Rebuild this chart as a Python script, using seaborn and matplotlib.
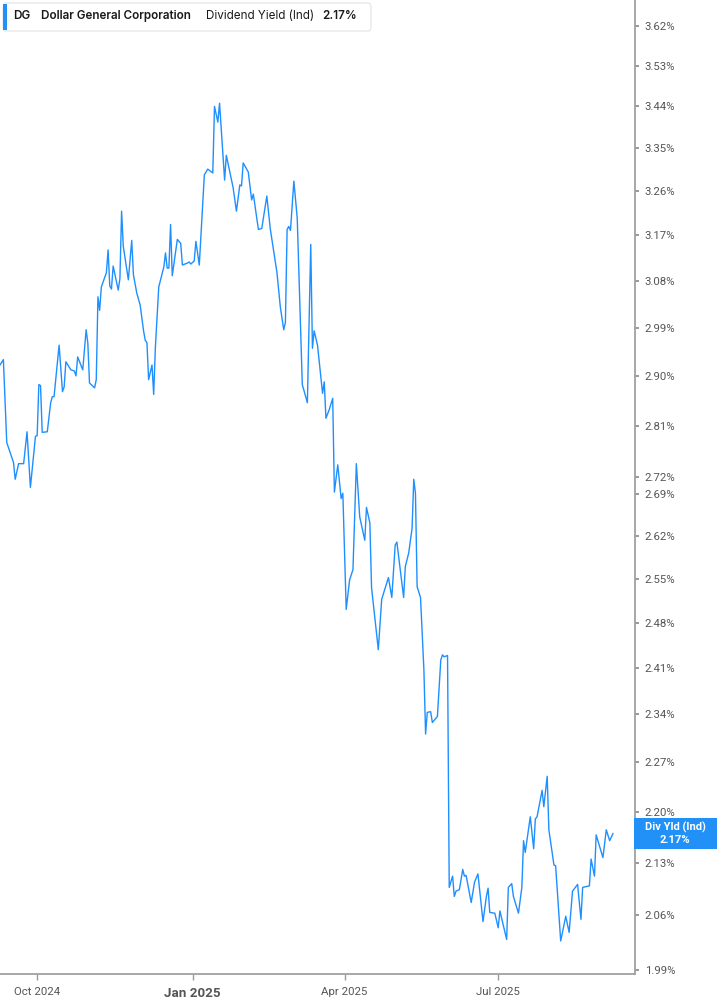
import pandas as pd
import matplotlib
matplotlib.use("Agg")
import matplotlib.pyplot as plt
import matplotlib.dates as mdates
from matplotlib.patches import FancyBboxPatch, Rectangle
from matplotlib.ticker import FixedLocator, FixedFormatter, NullLocator
import seaborn as sns

# DG dividend yield (indicated), percent
dates = [
    "2024-09-09", "2024-09-11", "2024-09-13", "2024-09-17", "2024-09-18", "2024-09-20", "2024-09-23", "2024-09-25", "2024-09-27", "2024-09-30",
    "2024-10-01", "2024-10-02", "2024-10-03", "2024-10-04", "2024-10-07", "2024-10-09", "2024-10-10", "2024-10-11", "2024-10-14", "2024-10-16",
    "2024-10-17", "2024-10-18", "2024-10-21", "2024-10-23", "2024-10-24", "2024-10-25", "2024-10-28", "2024-10-30", "2024-10-31", "2024-11-01",
    "2024-11-04", "2024-11-05", "2024-11-06", "2024-11-07", "2024-11-08", "2024-11-11", "2024-11-12", "2024-11-13", "2024-11-14", "2024-11-15",
    "2024-11-18", "2024-11-19", "2024-11-20", "2024-11-21", "2024-11-24", "2024-11-26", "2024-11-27", "2024-11-29", "2024-12-01", "2024-12-03",
    "2024-12-04", "2024-12-05", "2024-12-06", "2024-12-08", "2024-12-09", "2024-12-10", "2024-12-12", "2024-12-15", "2024-12-16", "2024-12-17",
    "2024-12-18", "2024-12-19", "2024-12-20", "2024-12-23", "2024-12-25", "2024-12-26", "2024-12-29", "2024-12-30", "2024-12-31", "2025-01-02",
    "2025-01-03", "2025-01-05", "2025-01-08", "2025-01-10", "2025-01-13", "2025-01-14", "2025-01-16", "2025-01-17", "2025-01-20", "2025-01-21",
    "2025-01-25", "2025-01-27", "2025-01-29", "2025-01-30", "2025-01-31", "2025-02-03", "2025-02-05", "2025-02-06", "2025-02-09", "2025-02-11",
    "2025-02-14", "2025-02-16", "2025-02-20", "2025-02-22", "2025-02-24", "2025-02-25", "2025-02-26", "2025-02-27", "2025-02-28", "2025-03-02",
    "2025-03-04", "2025-03-07", "2025-03-10", "2025-03-12", "2025-03-13", "2025-03-14", "2025-03-16", "2025-03-19", "2025-03-20", "2025-03-21",
    "2025-03-23", "2025-03-25", "2025-03-26", "2025-03-28", "2025-03-30", "2025-03-31", "2025-04-02", "2025-04-04", "2025-04-06", "2025-04-08",
    "2025-04-10", "2025-04-13", "2025-04-14", "2025-04-16", "2025-04-17", "2025-04-21", "2025-04-23", "2025-04-27", "2025-04-29", "2025-05-01",
    "2025-05-02", "2025-05-06", "2025-05-07", "2025-05-09", "2025-05-11", "2025-05-12", "2025-05-13", "2025-05-14", "2025-05-16", "2025-05-18",
    "2025-05-19", "2025-05-20", "2025-05-22", "2025-05-23", "2025-05-26", "2025-05-28", "2025-05-29", "2025-05-30", "2025-06-01", "2025-06-02",
    "2025-06-04", "2025-06-05", "2025-06-06", "2025-06-08", "2025-06-10", "2025-06-11", "2025-06-12", "2025-06-15", "2025-06-17", "2025-06-19",
    "2025-06-22", "2025-06-24", "2025-06-25", "2025-06-26", "2025-06-29", "2025-07-01", "2025-07-02", "2025-07-06", "2025-07-07", "2025-07-09",
    "2025-07-10", "2025-07-13", "2025-07-15", "2025-07-16", "2025-07-17", "2025-07-20", "2025-07-22", "2025-07-23", "2025-07-24", "2025-07-27",
    "2025-07-28", "2025-07-30", "2025-07-31", "2025-08-03", "2025-08-04", "2025-08-07", "2025-08-10", "2025-08-12", "2025-08-14", "2025-08-17",
    "2025-08-19", "2025-08-20", "2025-08-24", "2025-08-25", "2025-08-27", "2025-08-28", "2025-09-01", "2025-09-03", "2025-09-05", "2025-09-07",
]
yield_pct = [
    2.920, 2.930, 2.780, 2.745, 2.716, 2.743, 2.743, 2.799, 2.702, 2.791,
    2.792, 2.884, 2.882, 2.798, 2.799, 2.851, 2.862, 2.862, 2.957, 2.871,
    2.880, 2.926, 2.911, 2.909, 2.900, 2.935, 2.911, 2.986, 2.961, 2.887,
    2.878, 2.893, 3.049, 3.023, 3.068, 3.096, 3.141, 3.070, 3.064, 3.109,
    3.062, 3.084, 3.219, 3.148, 3.082, 3.160, 3.092, 3.056, 3.033, 2.984,
    2.966, 2.962, 2.893, 2.920, 2.866, 2.953, 3.068, 3.107, 3.135, 3.105,
    3.105, 3.192, 3.090, 3.162, 3.154, 3.111, 3.115, 3.117, 3.113, 3.119,
    3.158, 3.111, 3.294, 3.306, 3.298, 3.440, 3.406, 3.447, 3.283, 3.335,
    3.268, 3.219, 3.273, 3.271, 3.319, 3.300, 3.242, 3.254, 3.182, 3.184,
    3.250, 3.184, 3.096, 3.029, 2.986, 3.000, 3.182, 3.188, 3.180, 3.281,
    3.205, 2.884, 2.851, 3.152, 2.951, 2.984, 2.957, 2.868, 2.889, 2.823,
    2.839, 2.859, 2.694, 2.741, 2.683, 2.692, 2.501, 2.548, 2.565, 2.743,
    2.652, 2.613, 2.668, 2.642, 2.536, 2.438, 2.517, 2.552, 2.520, 2.605,
    2.610, 2.520, 2.570, 2.592, 2.633, 2.716, 2.692, 2.537, 2.520, 2.407,
    2.311, 2.343, 2.344, 2.328, 2.337, 2.422, 2.430, 2.427, 2.429, 2.097,
    2.112, 2.085, 2.092, 2.094, 2.121, 2.112, 2.113, 2.077, 2.104, 2.115,
    2.052, 2.085, 2.096, 2.064, 2.063, 2.044, 2.066, 2.029, 2.097, 2.102,
    2.085, 2.063, 2.097, 2.160, 2.144, 2.193, 2.149, 2.190, 2.193, 2.230,
    2.207, 2.250, 2.175, 2.127, 2.126, 2.027, 2.059, 2.038, 2.092, 2.101,
    2.055, 2.097, 2.099, 2.135, 2.112, 2.168, 2.137, 2.175, 2.160, 2.170,
]

ytick_vals = [1.99, 2.06, 2.13, 2.20, 2.27, 2.34, 2.41, 2.48, 2.55, 2.62, 2.69,
              2.72, 2.81, 2.90, 2.99, 3.08, 3.17, 3.26, 3.35, 3.44, 3.53, 3.62]
xtick_dates = ["2024-10-01", "2025-01-01", "2025-04-01", "2025-07-01"]
xtick_labels = ["Oct 2024", "Jan 2025", "Apr 2025", "Jul 2025"]

ticker = "DG"
company = "Dollar General Corporation"
metric = "Dividend Yield (Ind)"
last_value = "2.17%"

LINE_BLUE = "#1e8fff"
BOX_BLUE = "#2191f7"
TXT = "#555555"
W, H = 717, 1005

df = pd.DataFrame({"date": pd.to_datetime(dates), "yield": yield_pct})

sns.set_style("white")
plt.rcParams["font.family"] = ["Roboto", "DejaVu Sans"]

fig = plt.figure(figsize=(W / 100, H / 100), dpi=100)
ax = fig.add_axes([0, 1 - 974 / H, 635 / W, 974 / H])

sns.lineplot(data=df, x="date", y="yield", ax=ax, color=LINE_BLUE, linewidth=1.0)

ax.set_yscale("log")
ax.set_ylim(1.985, 3.68)
ax.set_xlim(pd.Timestamp("2024-09-09"), pd.Timestamp("2025-09-20"))
ax.yaxis.set_major_locator(FixedLocator(ytick_vals))
ax.yaxis.set_major_formatter(FixedFormatter([f"{v:.2f}%" for v in ytick_vals]))
ax.yaxis.set_minor_locator(NullLocator())
ax.yaxis.tick_right()
ax.tick_params(axis="y", which="major", right=True, left=False, length=3, width=1.2,
               color="#888888", labelcolor=TXT, labelsize=8.2, pad=4)

xt = [mdates.date2num(pd.Timestamp(d)) for d in xtick_dates]
ax.xaxis.set_major_locator(FixedLocator(xt))
ax.xaxis.set_major_formatter(FixedFormatter(xtick_labels))
ax.xaxis.set_minor_locator(NullLocator())
ax.tick_params(axis="x", bottom=True, length=4, width=1, color="#999999",
               labelcolor=TXT, labelsize=8.2, pad=5)
for lbl in ax.get_xticklabels():
    if lbl.get_text().startswith("Jan"):
        lbl.set_fontweight("bold")
        lbl.set_fontsize(9.6)

ax.set_xlabel("")
ax.set_ylabel("")
for side in ["left", "top"]:
    ax.spines[side].set_visible(False)
for side in ["right", "bottom"]:
    ax.spines[side].set_color("#a0a0a0")
    ax.spines[side].set_linewidth(1.3)


def px(x, y):
    return x / W, 1 - y / H


# header box top-left
x0, y0 = px(3, 31)
x1, y1 = px(371, 3)
fig.patches.append(FancyBboxPatch((x0, y0), x1 - x0, y1 - y0, boxstyle="round,pad=0,rounding_size=0.004",
                                  transform=fig.transFigure, facecolor="white", edgecolor="#e4e4e4",
                                  linewidth=0.8, zorder=5))
bx0, by0 = px(3, 30)
bx1, by1 = px(7, 4)
fig.patches.append(Rectangle((bx0, by0), bx1 - bx0, by1 - by0, transform=fig.transFigure,
                             facecolor=BOX_BLUE, edgecolor="none", zorder=6))
hy = 16
head_font = ["Inter", "DejaVu Sans"]
fig.text(*px(13, hy), ticker, fontsize=8.4, fontweight="semibold", family=head_font,
         color="#1a1a1a", va="center", zorder=7)
fig.text(*px(41, hy), company, fontsize=8.4, fontweight="semibold", family=head_font,
         color="#1a1a1a", va="center", zorder=7)
fig.text(*px(206, hy), metric, fontsize=8.4, family=head_font,
         color="#1a1a1a", va="center", zorder=7)
fig.text(*px(322, hy), last_value, fontsize=8.4, fontweight="semibold", family=head_font,
         color="#1a1a1a", va="center", zorder=7)

# last value flag on right axis
rx0, ry0 = px(634, 849)
rx1, ry1 = px(717, 818)
fig.patches.append(Rectangle((rx0, ry0), rx1 - rx0, ry1 - ry0, transform=fig.transFigure,
                             facecolor=BOX_BLUE, edgecolor="none", zorder=6))
fig.text(*px(675, 827), "Div Yld (Ind)", fontsize=8, fontweight="bold", color="white",
         ha="center", va="center", zorder=7)
fig.text(*px(675, 840), last_value, fontsize=8, fontweight="bold", color="white",
         ha="center", va="center", zorder=7)

fig.savefig("out.png", dpi=100)
